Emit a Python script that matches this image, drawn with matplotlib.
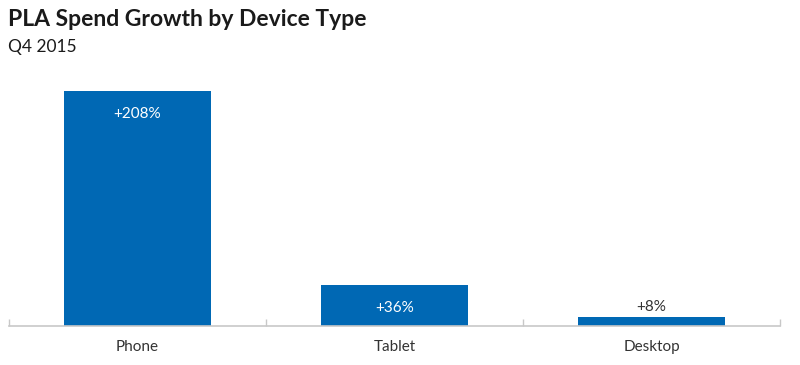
import matplotlib
matplotlib.use("Agg")
import matplotlib.pyplot as plt

categories = ["Phone", "Tablet", "Desktop"]
values = [208, 36, 8]
labels = ["+208%", "+36%", "+8%"]

plt.rcParams['font.family'] = ['Lato', 'DejaVu Sans']

fig = plt.figure(figsize=(8, 3.65), dpi=100)
ax = fig.add_axes([9/800, 1 - 326/365, 771/800, 248.6/365])

x = list(range(len(categories)))
bars = ax.bar(x, values, width=0.57, color="#0068b4")
ax.set_xlim(-0.5, len(categories) - 0.5)
ax.set_ylim(0, 220)

for xi, v, lab in zip(x, values, labels):
    if v > 20:
        ax.annotate(lab, (xi, v), xytext=(0, -16.5), textcoords="offset points",
                    ha="center", va="center", color="white", fontsize=11)
    else:
        ax.annotate(lab, (xi, v), xytext=(0, 7.5), textcoords="offset points",
                    ha="center", va="center", color="#333333", fontsize=11)

for s in ["top", "right", "left"]:
    ax.spines[s].set_visible(False)
ax.spines["bottom"].set_color("#c8c8c8")
ax.spines["bottom"].set_linewidth(1.2)
ax.set_yticks([])
ax.set_xticks(x)
ax.set_xticklabels(categories, fontsize=11, color="#333333")
ax.tick_params(axis="x", which="major", length=0, pad=10)
ax.set_xticks([i - 0.5 for i in range(len(categories) + 1)], minor=True)
ax.tick_params(axis="x", which="minor", direction="in", length=5, color="#c8c8c8", width=1)

fig.text(8/800, 1 - 19/365, "PLA Spend Growth by Device Type", fontsize=16.5, fontweight="bold",
         color="#1a1a1a", va="center", ha="left")
fig.text(8/800, 1 - 47/365, "Q4 2015", fontsize=12.5, color="#1a1a1a", va="center", ha="left")

fig.savefig("out.png", dpi=100)
